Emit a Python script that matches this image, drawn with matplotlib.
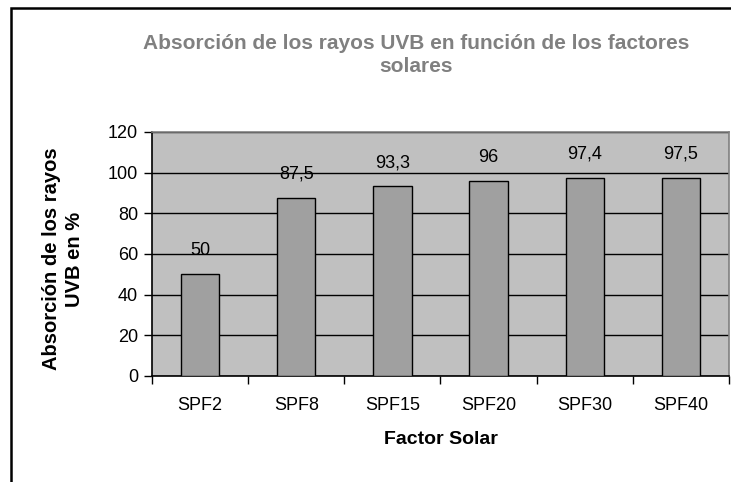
import numpy as np
import matplotlib.pyplot as plt
from matplotlib.patches import Rectangle

plt.rcParams['font.family'] = ['Liberation Sans', 'DejaVu Sans']

# datos
factores = ['SPF2', 'SPF8', 'SPF15', 'SPF20', 'SPF30', 'SPF40']
absorcion = [50, 87.5, 93.3, 96, 97.4, 97.5]
etiquetas = ['50', '87,5', '93,3', '96', '97,4', '97,5']
yticks = [0, 20, 40, 60, 80, 100, 120]

W, H = 731, 482
fig = plt.figure(figsize=(W / 100, H / 100), dpi=100)
fig.patch.set_facecolor('white')

# marco del area del grafico (cortado a la derecha y abajo)
fig.patches.append(Rectangle((11 / W, -0.05), 1.1, 1 - 8 / H + 0.05,
                             transform=fig.transFigure, fill=False,
                             edgecolor='black', linewidth=1.8))

ax = fig.add_axes([152 / W, 1 - 376 / H, (729 - 152) / W, (376 - 132) / H])
ax.set_facecolor('#C0C0C0')

x = np.arange(len(factores))
ax.bar(x, absorcion, width=0.4, color='#A0A0A0', edgecolor='black',
       linewidth=1.0, zorder=3)

for xi, v, lab in zip(x, absorcion, etiquetas):
    ax.annotate(lab, (xi, v), xytext=(0, 11), textcoords='offset points',
                ha='center', va='bottom', fontsize=13)

ax.set_xlim(-0.5, len(factores) - 0.5)
ax.set_ylim(0, 120)
ax.set_yticks(yticks)
ax.yaxis.grid(True, color='black', linewidth=1.0, zorder=0)
ax.set_axisbelow(True)

ax.set_xticks(x)
ax.set_xticklabels(factores, fontsize=13)
ax.set_xticks(np.arange(len(factores) + 1) - 0.5, minor=True)
ax.tick_params(axis='x', which='major', length=0, pad=15)
ax.tick_params(axis='x', which='minor', length=6, width=1, direction='out')
ax.tick_params(axis='y', length=6, width=1, direction='out', labelsize=13, pad=4)

for s in ['top', 'right']:
    ax.spines[s].set_color('#808080')
    ax.spines[s].set_linewidth(1.2)
for s in ['left', 'bottom']:
    ax.spines[s].set_color('black')
    ax.spines[s].set_linewidth(1.2)

ax.set_xlabel('Factor Solar', fontsize=14, fontweight='bold', labelpad=12)

fig.text(63 / W, 1 - 259 / H, 'Absorción de los rayos\nUVB en %', rotation=90,
         ha='center', va='center', fontsize=14.5, fontweight='bold',
         linespacing=1.25)

fig.text(416 / W, 1 - 55 / H, 'Absorción de los rayos UVB en función de los factores\nsolares',
         ha='center', va='center', fontsize=15, fontweight='bold', color='#808080',
         linespacing=1.25)

fig.savefig('out.png', dpi=100)
